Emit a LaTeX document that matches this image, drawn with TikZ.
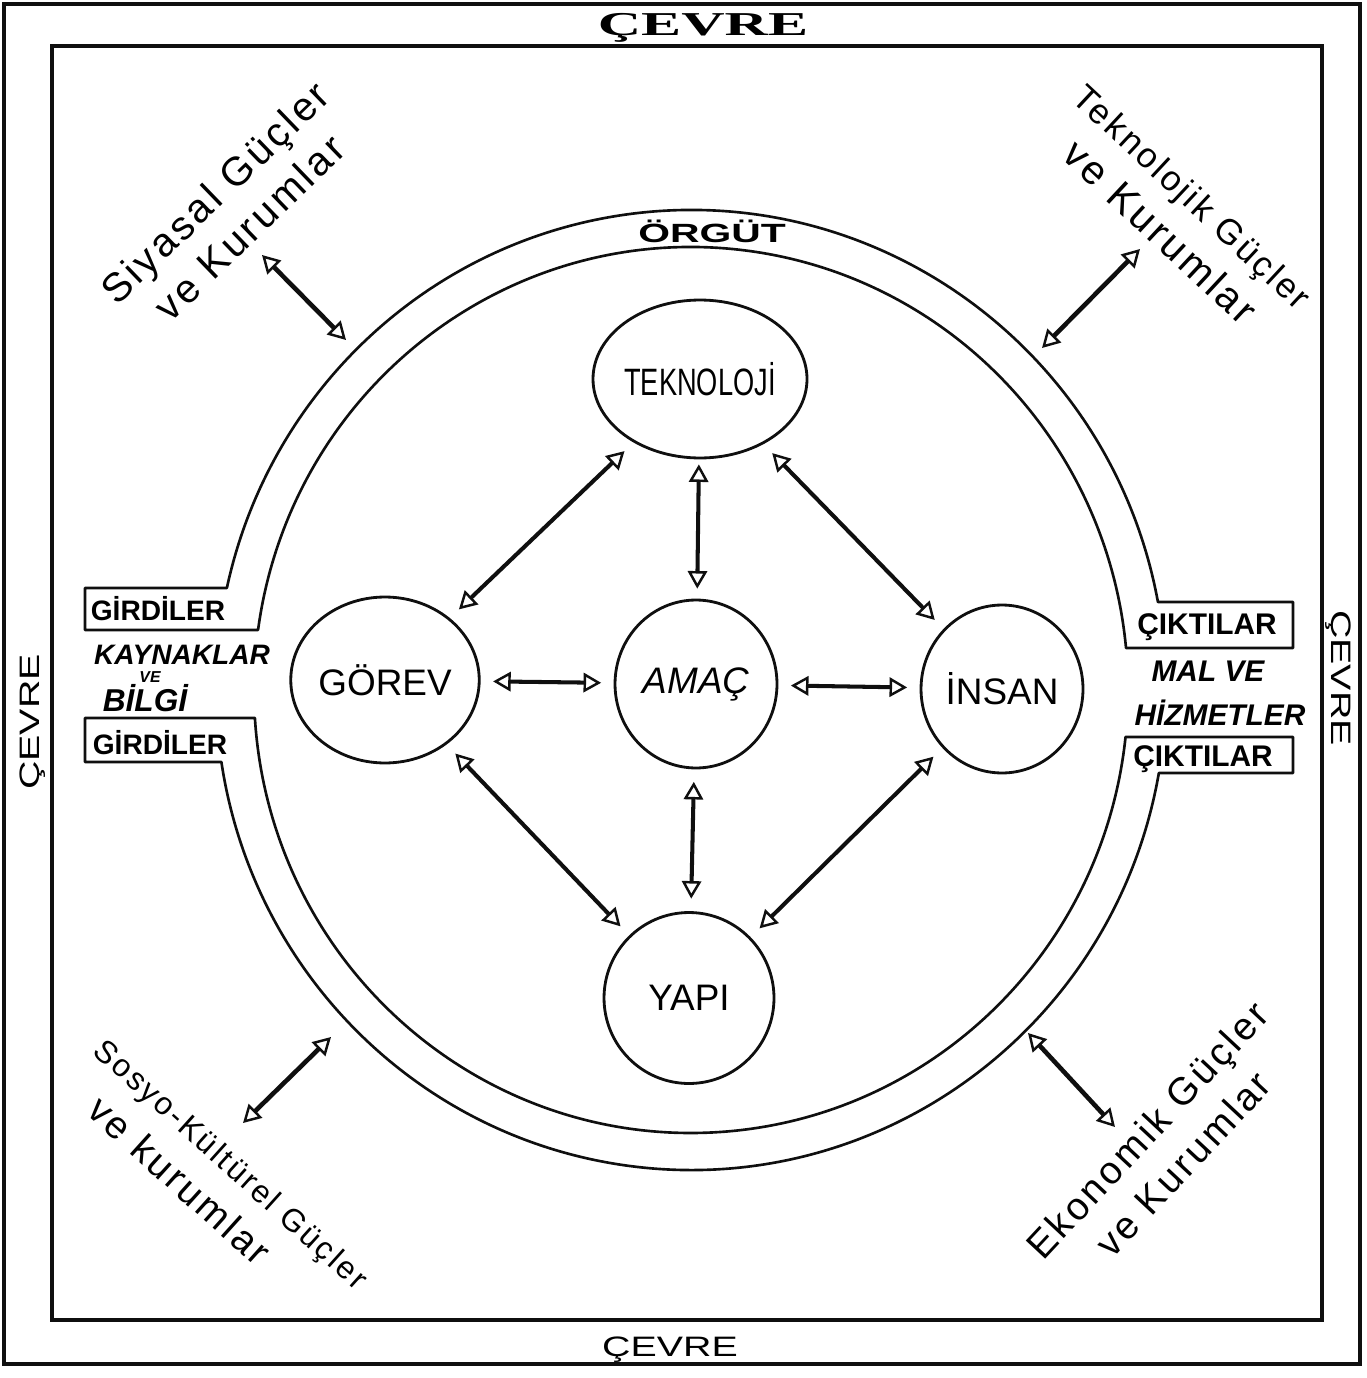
\documentclass[tikz,border=0pt]{standalone}
\usepackage{fontspec}
\setmainfont{Liberation Sans}
\newfontfamily\typefont{Liberation Serif}
\usepackage{graphicx}
\usetikzlibrary{shapes.geometric, arrows.meta}
\definecolor{Ink}{RGB}{15,15,15}
\newcommand\tallcaps[1]{\scalebox{1}[1.4]{#1}}

\begin{document}
\begin{tikzpicture}[x=0.02cm, y=-0.02cm,
          >={Triangle[open, length=10pt, width=11pt, line width=1.4pt]},
          frame/.style={draw=Ink, line width=1.8pt},
          ring/.style={draw=Ink, line width=1.5pt, line join=round},
          unit/.style={ellipse, draw=Ink, line width=1.6pt, inner sep=0pt,
                       font=\fontsize{21}{24}\selectfont},
          rel/.style={<->, draw=Ink, line width=2.3pt,
                      shorten <=0.25cm, shorten >=0.25cm},
          tie/.style={<->, draw=Ink, line width=2.6pt},
          env/.style={font=\fontsize{16}{16}\selectfont, inner sep=0pt},
          tag/.style={font=\bfseries\fontsize{16}{16}\selectfont, inner sep=0pt},
          flow/.style={font=\bfseries\itshape\fontsize{17}{17}\selectfont, inner sep=0pt},
          force/.style={align=center, inner sep=0pt,
                        font=\addfontfeature{LetterSpace=8}\fontsize{22}{28}\selectfont}
        ]
        \useasboundingbox (0,0) rectangle (1366,1378);

        % Environment frames
        \draw[frame] (4,4) rectangle (1360,1364);
        \draw[frame] (52,46) rectangle (1322,1320);

        \node[inner sep=0pt, font=\typefont\bfseries\fontsize{19}{19}\selectfont]
              (cevreN) at (703,28) {\scalebox{1.8}[1]{ÇEVRE}};
        \node[env] (cevreS) at (670,1350) {\scalebox{1.4}[1]{ÇEVRE}};
        \node[env, rotate=90]  (cevreW) at (33,722)   {\scalebox{1.4}[1]{ÇEVRE}};
        \node[env, rotate=-90] (cevreE) at (1338,678) {\scalebox{1.4}[1]{ÇEVRE}};

        % Organisation ring, upper half with the mouths
        \draw[ring] (85,630) -- ([shift={(691,690)}]-172.21:437 and 443)
              arc[start angle=-172.21, end angle=-5.44, x radius=437, y radius=443]
              -- (1293,648) -- (1293,602) -- ([shift={(691,690)}]-10.56:475 and 480)
              arc[start angle=-10.56, end angle=-167.73, x radius=475, y radius=480]
              -- (85,588) -- cycle;
        % lower half
        \draw[ring] (85,718) -- ([shift={(691,690)}]176.38:437 and 443)
              arc[start angle=176.38, end angle=6.09, x radius=437, y radius=443]
              -- (1293,737) -- (1293,773) -- ([shift={(691,690)}]9.96:475 and 480)
              arc[start angle=9.96, end angle=171.37, x radius=475, y radius=480]
              -- (85,762) -- cycle;

        \node[inner sep=0pt, font=\bfseries\fontsize{15}{15}\selectfont]
              (orgut) at (712,231) {\scalebox{1.55}[1]{ÖRGÜT}};

        % Inputs
        \node[tag] (girA) at (158,609) {GİRDİLER};
        \node[tag] (girB) at (160,743) {GİRDİLER};
        \node[flow, font=\bfseries\itshape\fontsize{16}{16}\selectfont] (kayn) at (182,655) {KAYNAKLAR};
        \node[flow, font=\bfseries\itshape\fontsize{9}{9}\selectfont] (ve) at (150,677) {VE};
        \node[flow, font=\bfseries\itshape\fontsize{18}{18}\selectfont] (bilgi) at (145,698) {BİLGİ};

        % Outputs
        \node[tag, font=\bfseries\fontsize{17}{17}\selectfont] (cikA) at (1207,627) {ÇIKTILAR};
        \node[tag, font=\bfseries\fontsize{17}{17}\selectfont] (cikB) at (1203,759) {ÇIKTILAR};
        \node[flow] (mal) at (1208,671) {MAL VE};
        \node[flow] (hizm) at (1220,713) {HİZMETLER};

        % Sub-systems
        \node[unit, minimum width=3.4cm, minimum height=3.16cm]
              (tekn) at (700,379) {\fontsize{15.5}{18}\selectfont\tallcaps{TEKNOLOJİ}};
        \node[unit, minimum width=3.34cm, minimum height=3.32cm] (gorev) at (385,680) {GÖREV};
        \node[unit, minimum width=3.24cm, minimum height=3.36cm] (amac)  at (696,684) {\itshape AMAÇ};
        \node[unit, minimum width=3.24cm, minimum height=3.36cm] (insan) at (1002,689) {İNSAN};
        \node[unit, minimum width=3.4cm,  minimum height=3.42cm] (yapi)  at (689,998) {YAPI};

        \draw[rel] (tekn)  -- (gorev);
        \draw[rel, shorten <=0.1cm, shorten >=0.2cm] (tekn) -- (amac);
        \draw[rel] (tekn)  -- (insan);
        \draw[rel] (gorev) -- (amac);
        \draw[rel] (amac)  -- (insan);
        \draw[rel] (gorev) -- (yapi);
        \draw[rel] (amac)  -- (yapi);
        \draw[rel] (insan) -- (yapi);

        % Outside forces
        \node[force, rotate=44] (siyasal) at (232,210)
              {{\fontsize{23}{28}\selectfont Siyasal Güçler}\\{\fontsize{23}{28}\selectfont ve Kurumlar}};
        \node[force, rotate=-43] (teknolojik) at (1176,215)
              {{\fontsize{20}{28}\selectfont Teknolojik Güçler}\\{\fontsize{23}{28}\selectfont ve Kurumlar}};
        \node[force, rotate=-42] (sosyo) at (215,1182)
              {{\fontsize{18}{28}\selectfont Sosyo-Kültürel Güçler}\\{\fontsize{22}{28}\selectfont ve kurumlar}\hspace*{1.1cm}};
        \node[force, rotate=47] (ekonomik) at (1165,1147)
              {Ekonomik Güçler\\ve Kurumlar};

        \coordinate (siyA) at (262,255);  \coordinate (siyB) at (346,340);
        \coordinate (tekA) at (1140,249); \coordinate (tekB) at (1042,348);
        \coordinate (sosA) at (331,1037); \coordinate (sosB) at (243,1123);
        \coordinate (ekoA) at (1028,1033); \coordinate (ekoB) at (1115,1127);

        \draw[tie] (siyA) -- (siyB);
        \draw[tie] (tekA) -- (tekB);
        \draw[tie] (sosA) -- (sosB);
        \draw[tie] (ekoA) -- (ekoB);
      \end{tikzpicture}
\end{document}
